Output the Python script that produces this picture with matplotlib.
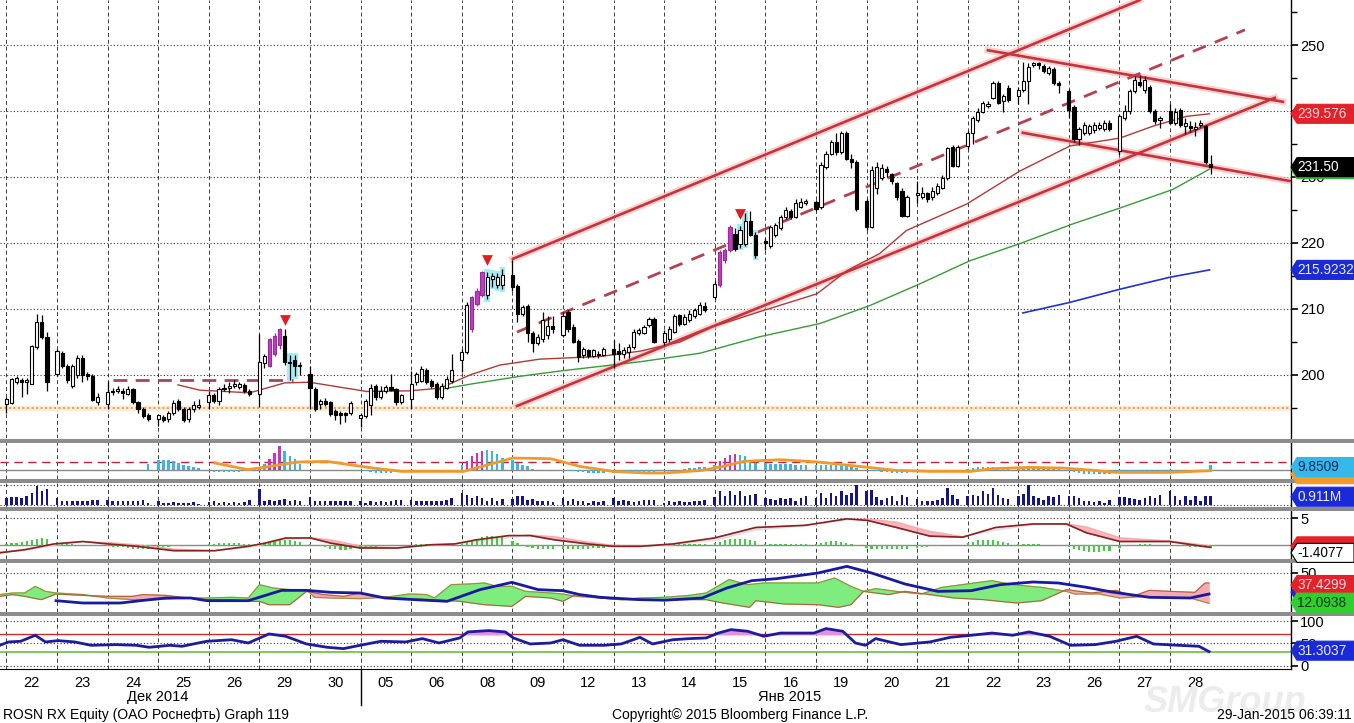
import numpy as np
import matplotlib
matplotlib.use('Agg')
import matplotlib.pyplot as plt
from matplotlib.patches import Polygon, Rectangle
from matplotlib.lines import Line2D

plt.rcParams['font.family'] = ['Liberation Sans', 'DejaVu Sans']

# ---------------------------------------------------------------- data
# trading days on the chart, 9 hourly bars each
day_labels = ['22', '23', '24', '25', '26', '29', '30', '05', '06', '08', '09', '12',
              '13', '14', '15', '16', '19', '20', '21', '22', '23', '26', '27', '28']

opens = [
    [195.6, 195.7, 199.0, 199.3, 198.9, 198.7, 204.2, 208.0, 205.7],
    [200.2, 203.4, 201.4, 198.4, 200.0, 202.5, 200.1, 199.9, 195.9],
    [195.6, 197.4, 197.5, 197.6, 197.1, 197.9, 195.9, 194.8, 194.0],
    [193.4, 193.6, 193.3, 194.3, 196.0, 194.8, 193.3, 194.8, 195.2],
    [195.9, 196.9, 196.1, 197.9, 198.0, 198.4, 198.2, 198.5, 197.6],
    [197.1, 201.8, 201.4, 203.2, 204.5, 205.9, 202.0, 202.2, 201.5],
    [200.2, 197.9, 195.6, 196.1, 195.9, 194.5, 194.3, 194.2, 194.3],
    [193.5, 193.8, 195.4, 198.4, 196.6, 197.6, 198.2, 197.8, 195.9],
    [196.4, 198.9, 199.1, 200.7, 199.1, 198.6, 196.7, 198.1, 199.1],
    [202.2, 203.5, 207.0, 210.8, 212.1, 212.1, 214.6, 213.6, 213.6],
    [215.2, 213.5, 209.3, 210.5, 206.3, 204.9, 205.4, 206.0, 207.4],
    [206.0, 209.5, 207.3, 205.2, 203.0, 203.8, 202.9, 203.2, 203.0],
    [204.0, 203.6, 203.2, 203.5, 204.2, 206.3, 206.4, 207.5, 208.5],
    [205.0, 205.5, 206.5, 209.1, 207.7, 208.3, 209.0, 209.3, 210.4],
    [211.8, 213.6, 217.4, 218.9, 221.4, 219.9, 219.9, 223.4, 221.2],
    [220.3, 219.6, 221.2, 222.2, 223.9, 224.9, 224.0, 225.5, 226.1],
    [226.2, 225.5, 231.5, 233.5, 235.3, 233.8, 236.6, 232.8, 232.3],
    [226.4, 222.4, 228.4, 229.9, 231.2, 230.4, 229.1, 227.9, 224.1],
    [227.3, 226.9, 227.6, 226.9, 227.6, 228.4, 229.9, 234.5, 231.7],
    [234.7, 236.7, 238.7, 239.9, 240.8, 242.0, 244.2, 241.5, 243.5],
    [242.2, 243.2, 244.5, 246.9, 247.2, 246.8, 245.8, 246.3, 244.3],
    [243.1, 240.6, 235.8, 236.7, 236.7, 237.1, 237.4, 237.2, 238.2],
    [234.0, 239.0, 240.0, 243.0, 244.4, 243.2, 243.7, 240.0, 238.7],
    [240.0, 238.2, 240.2, 237.8, 237.8, 237.2, 237.9, 237.7, 232.0],
]
highs = [
    [196.7, 199.5, 199.9, 199.6, 199.6, 204.5, 209.2, 209.1, 206.5],
    [204.0, 203.7, 201.6, 201.6, 203.0, 203.0, 200.4, 200.2, 197.3],
    [199.1, 198.1, 198.3, 198.0, 198.3, 198.1, 196.1, 195.2, 194.3],
    [194.0, 194.0, 194.6, 196.2, 196.4, 195.2, 195.2, 196.0, 196.4],
    [197.5, 197.2, 198.2, 198.6, 199.0, 199.2, 199.0, 198.8, 197.8],
    [206.2, 203.2, 205.6, 206.3, 207.1, 206.9, 203.0, 203.0, 202.0],
    [201.4, 198.2, 196.4, 196.5, 196.0, 194.8, 194.6, 194.4, 196.0],
    [194.3, 196.4, 198.6, 198.7, 198.3, 198.5, 200.1, 198.0, 197.1],
    [200.6, 200.5, 201.3, 201.0, 199.4, 198.9, 198.8, 199.8, 203.2],
    [204.0, 211.0, 212.0, 213.2, 215.8, 215.6, 215.5, 215.4, 216.0],
    [217.4, 213.8, 210.6, 210.8, 206.6, 206.2, 209.5, 209.0, 209.0],
    [209.5, 209.8, 207.7, 205.5, 204.2, 204.0, 204.0, 203.6, 204.2],
    [205.3, 204.9, 204.3, 204.7, 207.0, 207.1, 207.6, 208.8, 208.8],
    [206.8, 207.4, 209.3, 209.3, 209.2, 209.8, 210.2, 211.0, 211.0],
    [214.2, 219.0, 219.3, 222.7, 222.2, 222.5, 224.5, 224.8, 221.6],
    [220.8, 222.8, 223.0, 224.2, 225.5, 225.2, 226.6, 226.8, 226.6],
    [226.5, 232.2, 234.0, 235.6, 236.7, 236.9, 236.9, 233.5, 232.6],
    [226.6, 231.7, 232.2, 232.0, 231.7, 230.6, 229.3, 228.3, 227.2],
    [229.4, 228.5, 227.8, 228.5, 229.1, 230.3, 234.6, 234.9, 234.9],
    [237.0, 239.3, 240.5, 241.5, 241.5, 244.5, 244.6, 242.6, 244.0],
    [243.6, 247.5, 247.2, 247.5, 247.4, 247.1, 246.8, 246.6, 244.5],
    [243.3, 240.9, 237.6, 238.3, 238.1, 238.4, 238.4, 238.6, 238.6],
    [239.6, 240.9, 243.4, 245.3, 245.5, 245.3, 244.0, 240.3, 239.3],
    [241.0, 240.5, 240.5, 238.9, 238.5, 238.3, 238.6, 237.9, 233.4],
]
lows = [
    [194.3, 195.6, 198.6, 196.6, 197.1, 198.6, 204.0, 205.5, 197.6],
    [199.8, 201.0, 198.8, 198.0, 199.5, 199.0, 199.3, 196.0, 195.5],
    [194.8, 196.9, 197.2, 196.4, 196.9, 195.6, 194.3, 193.5, 193.0],
    [192.3, 192.9, 192.8, 194.0, 194.5, 192.9, 192.9, 194.4, 194.8],
    [194.9, 195.8, 195.5, 197.5, 197.3, 198.0, 197.8, 197.3, 196.8],
    [195.1, 201.0, 201.2, 202.8, 204.0, 201.5, 199.3, 199.8, 200.0],
    [194.9, 194.5, 194.8, 195.3, 193.8, 193.2, 192.6, 192.8, 194.0],
    [192.1, 193.5, 194.0, 196.2, 196.3, 197.3, 197.5, 195.4, 195.6],
    [194.8, 198.5, 198.9, 198.6, 198.0, 196.3, 196.4, 197.8, 198.8],
    [200.5, 203.2, 206.5, 210.5, 211.8, 211.5, 213.4, 213.2, 213.0],
    [212.8, 208.0, 209.0, 205.0, 203.5, 204.6, 205.0, 205.5, 206.4],
    [205.8, 206.5, 204.8, 202.0, 202.5, 202.5, 202.7, 202.6, 202.9],
    [201.0, 202.2, 202.5, 202.5, 204.0, 206.0, 206.2, 207.3, 204.8],
    [204.5, 205.0, 206.3, 207.4, 207.5, 208.0, 208.6, 209.1, 209.6],
    [211.5, 213.3, 217.0, 218.7, 218.8, 219.3, 219.6, 221.0, 217.8],
    [219.0, 219.3, 220.9, 222.0, 223.7, 223.6, 223.8, 225.3, 225.8],
    [224.9, 225.2, 231.2, 233.3, 233.4, 233.5, 232.5, 231.3, 224.9],
    [222.0, 222.2, 227.4, 229.6, 230.0, 228.9, 226.5, 223.9, 223.9],
    [226.1, 226.6, 226.2, 226.5, 227.3, 228.2, 229.6, 231.5, 231.5],
    [234.3, 235.0, 238.4, 239.7, 240.5, 241.8, 241.0, 239.8, 241.4],
    [241.0, 242.9, 241.0, 246.7, 246.4, 245.8, 245.5, 244.0, 242.7],
    [239.0, 235.3, 234.8, 236.4, 236.4, 236.7, 237.1, 236.9, 236.9],
    [233.4, 238.7, 239.5, 242.8, 243.7, 242.8, 239.7, 238.0, 237.4],
    [238.0, 237.9, 237.6, 236.5, 236.8, 236.2, 237.6, 232.0, 230.4],
]
closes = [
    [196.4, 199.4, 199.5, 198.9, 199.3, 204.4, 208.0, 205.7, 198.9],
    [203.7, 201.4, 199.2, 201.3, 202.5, 200.0, 199.8, 196.2, 196.7],
    [197.4, 197.6, 197.8, 197.2, 197.9, 195.9, 194.8, 193.8, 193.3],
    [193.9, 193.2, 194.3, 195.8, 194.8, 193.2, 194.8, 195.4, 195.4],
    [196.9, 196.1, 197.9, 198.1, 198.3, 198.7, 198.6, 197.6, 197.1],
    [201.9, 202.8, 205.5, 205.9, 207.0, 202.0, 201.8, 201.3, 201.3],
    [198.1, 194.9, 196.1, 195.6, 194.1, 194.0, 194.0, 194.0, 195.8],
    [194.0, 196.1, 198.1, 196.6, 197.6, 198.2, 197.7, 195.9, 196.9],
    [198.7, 200.2, 200.9, 199.0, 198.4, 196.6, 198.4, 199.4, 200.7],
    [203.5, 210.6, 211.8, 212.8, 215.6, 214.8, 215.0, 214.9, 215.1],
    [213.3, 209.3, 210.3, 206.3, 204.8, 205.8, 208.4, 207.4, 207.0],
    [209.0, 207.0, 205.0, 202.7, 204.0, 202.8, 203.8, 203.0, 204.0],
    [203.2, 203.2, 203.8, 204.2, 206.5, 206.8, 207.3, 208.5, 205.0],
    [206.3, 207.0, 209.0, 207.8, 208.8, 209.3, 209.8, 210.6, 209.8],
    [213.8, 218.6, 218.9, 222.4, 219.1, 221.9, 223.4, 221.2, 218.2],
    [220.0, 222.4, 222.7, 223.9, 225.0, 223.9, 226.0, 226.2, 226.3],
    [225.2, 231.8, 233.5, 235.3, 233.8, 236.6, 232.8, 232.3, 225.2],
    [222.4, 231.0, 231.5, 231.4, 230.7, 229.4, 226.9, 224.1, 226.9],
    [227.6, 227.6, 226.6, 227.9, 228.6, 229.9, 234.4, 231.7, 234.5],
    [236.7, 238.9, 239.9, 241.2, 241.1, 244.2, 241.2, 242.2, 241.7],
    [243.2, 244.5, 246.7, 247.2, 246.9, 246.1, 246.5, 244.3, 244.0],
    [240.1, 235.8, 237.3, 237.9, 237.7, 237.9, 237.9, 238.2, 237.2],
    [239.2, 240.0, 243.0, 244.7, 244.0, 244.7, 240.0, 238.5, 238.9],
    [238.2, 239.9, 237.9, 238.2, 237.4, 237.6, 238.2, 232.2, 231.5],
]
magenta_bars = [52, 53, 54, 92, 93, 94, 141, 142, 143]
cyan_bars = [56, 57, 95, 96, 97, 98, 145, 146, 148]
signal_bars = [55, 95, 145]
signal_prices = [208.3, 217.4, 224.4]

# moving averages / lines (trading-day position, value)
ma_red_t = [3.39, 3.82, 4.81, 5.50, 5.99, 7.12, 7.97, 8.57, 9.16, 9.75, 10.54, 11.73, 12.52, 13.31,
            13.96, 14.89, 16.02, 16.61, 17.26, 17.79, 18.98, 20.03, 21.02, 22.01, 22.66, 23.33, 23.78]
ma_red = [198.5, 197.7, 197.3, 198.8, 198.9, 197.5, 197.6, 198.0, 200.0, 201.5, 202.4, 202.8, 203.6, 205.0,
          207.3, 209.6, 212.3, 215.8, 218.4, 221.9, 225.9, 230.9, 234.7, 235.9, 237.7, 239.2, 239.576]
ma_green_t = [8.49, 9.16, 10.15, 10.94, 12.52, 13.71, 14.89, 16.08, 17.06, 18.05, 19.04, 20.03, 21.08,
              22.01, 23.05, 23.78]
ma_green = [197.7, 198.6, 199.8, 200.6, 202.0, 203.3, 205.8, 207.8, 210.5, 213.8, 217.3, 219.9, 222.9,
            225.3, 228.1, 231.2]
ma_blue_t = [20.09, 21.02, 22.01, 22.99, 23.78]
ma_blue = [209.4, 211.0, 213.0, 214.8, 215.9232]

# drawn trend lines: (day0, price0, day1, price1)
channel_lines = [(10.01, 217.6, 22.40, 256.8), (10.09, 195.3, 25.07, 242.0),
                 (19.40, 249.2, 25.23, 241.4), (20.09, 236.7, 25.36, 229.4)]
channel_mid = (10.09, 206.5, 24.48, 252.3)
resist_level = (2.10, 5.66, 199.2)
support_level = 195.0

# panel 2 oscillator histogram and its average
osc_hist = [
    [0] * 9, [0] * 9,
    [0, 0, 0, 0, 0, 0, 0, 0, 5.7],
    [10, 10, 9.3, 8.3, 6.7, 5, 3.3, 2.3, 1.7],
    [0, -2, -2.7, -2.7, -2.7, -2.7, -2.3, -1.7, -1],
    [2, 6, 11, 17, 24, 19, 14, 11, 6],
    [0, 0, 0, -0.7, -0.7, -0.7, 0, 0, 0],
    [-0.5, -1, -2, -3, -3.5, -3.5, -3, -2.5, -2],
    [-2, -2, -1.7, -1.7, -1.7, -1.7, -1.7, -1.5, -1],
    [5, 8.3, 13.3, 16.7, 19, 20, 18.3, 15.7, 11.7],
    [10, 6.7, 5, 3.3, 1, 0, 0, -0.5, -0.7],
    [-0.7, -1, -1.3, -2, -2.7, -3, -3.3, -3.3, -3],
    [-3, -3, -3, -3, -2.7, -2.7, -2.7, -2.5, -2.3],
    [-1, -0.7, 0, 0, 0.7, 1.3, 1.7, 2.3, 3],
    [4.3, 9, 11.7, 15, 15.7, 15, 13.3, 10, 6.7],
    [6.7, 6, 5.7, 5.7, 5.3, 5.3, 5, 4.7, 4.3],
    [5, 5, 4.7, 4.7, 4.3, 4, 3.3, 2.7, 1.7],
    [0, -1, -1.7, -2.3, -2.7, -3, -3, -3, -3],
    [-2.7, -2.3, -2, -2, -2, -1.7, -1.7, -1.3, -1],
    [1, 2, 2.3, 2.7, 2.7, 2.3, 2, 1.7, 1.3],
    [1.7, 1.7, 1.7, 1.7, 1.7, 1.3, 1.3, 1, 0.7],
    [-1, -2.3, -3.3, -4, -4.3, -4.7, -4.7, -4.3, -4],
    [-3.3, -3.3, -3.3, -3, -3, -3, -3, -3, -3],
    [-2.7, -2.3, -2, -2, -2, -1.7, -1.7, -1.3, 4.3],
]
osc_magenta = [52, 53, 54, 91, 92, 93, 94, 141, 142, 143, 144]
osc_avg_t = [4.12, 4.77, 5.76, 6.33, 7.24, 7.82, 8.86, 9.04, 10.01, 10.76, 11.33, 11.99, 12.64, 13.01,
             13.75, 14.16, 14.57, 15.31, 16.04, 16.85, 17.59, 18.25, 19.06, 19.48, 20.21, 20.86, 21.51,
             21.93, 22.99, 23.80]
osc_avg = [6.7, 0, 7.7, 8.3, 1.7, -1.7, -1.7, -1.7, 11.7, 11, 3.3, -1.7, -3.3, -3.3,
           -0.7, 3.3, 8.3, 10, 7.7, 3.3, -0.7, -1.7, -1.7, 1, 2.3, 1.7, -0.7,
           -2.7, -2.7, -1]

# volume, millions
volume = [
    [0.7, 0.8, 0.8, 0.7, 1.0, 1.3, 2.1, 1.5, 1.7],
    [0.7, 0.45, 0.45, 0.37, 0.45, 0.37, 0.45, 0.55, 0.55],
    [0.55, 0.37, 0.37, 0.37, 0.45, 0.37, 0.37, 0.5, 0.2],
    [0.37, 0.18, 0.15, 0.26, 0.15, 0.18, 0.15, 0.3, 0.11],
    [0.3, 0.37, 0.18, 0.3, 0.18, 0.3, 0.18, 0.3, 0.5],
    [1.75, 0.45, 0.55, 0.45, 0.55, 0.63, 0.45, 0.52, 0.37],
    [0.9, 0.45, 0.37, 0.37, 0.45, 0.37, 0.37, 0.45, 0.37],
    [0.45, 0.2, 0.37, 0.3, 0.37, 0.3, 0.37, 0.5, 0.5],
    [0.55, 0.37, 0.45, 0.37, 0.37, 0.45, 0.37, 0.5, 0.73],
    [1.3, 1.1, 0.73, 0.92, 0.73, 0.45, 0.73, 0.37, 0.63],
    [0.63, 1.0, 0.92, 0.5, 0.63, 0.45, 0.37, 0.37, 0.3],
    [0.73, 0.45, 0.66, 0.37, 0.37, 0.2, 0.37, 0.3, 0.45],
    [0.73, 0.37, 0.5, 0.37, 0.3, 0.37, 0.5, 0.5, 0.55],
    [0.18, 0.45, 0.3, 0.37, 0.3, 0.3, 0.37, 0.45, 0.55],
    [0.8, 1.47, 0.92, 1.55, 1.1, 1.55, 0.92, 1.1, 1.18],
    [0.73, 0.63, 0.55, 0.73, 0.66, 0.73, 0.45, 0.73, 0.92],
    [0.73, 1.28, 0.73, 1.28, 0.92, 1.47, 1.1, 1.28, 2.13],
    [1.47, 1.6, 0.8, 0.55, 0.73, 0.92, 0.37, 1.1, 0.8],
    [0.63, 0.45, 0.45, 0.37, 0.55, 0.73, 1.83, 1.1, 0.63],
    [1.0, 1.1, 0.92, 1.47, 1.18, 1.83, 1.1, 0.73, 0.63],
    [0.92, 1.18, 2.2, 0.92, 0.73, 0.55, 0.92, 0.8, 1.1],
    [1.0, 0.92, 0.73, 0.37, 0.45, 0.26, 0.37, 0.18, 0.5],
    [0.8, 0.8, 0.73, 0.66, 0.5, 0.73, 1.0, 0.73, 1.1],
    [1.55, 0.92, 0.5, 0.92, 0.5, 1.0, 0.45, 0.92, 0.911],
]

# MACD
macd_t = [-0.13, 0.37, 0.94, 1.51, 2.01, 2.58, 3.31, 4.12, 4.77, 5.11, 5.52, 6.01, 6.41, 6.99, 7.72,
          8.39, 8.86, 9.28, 9.93, 10.35, 10.84, 11.49, 11.99, 12.52, 13.17, 13.99, 14.81, 15.79, 16.61,
          17.02, 17.59, 18.25, 18.90, 19.55, 20.29, 20.95, 21.35, 22.01, 22.99, 23.80]
macd_line = [-1.4, -0.8, 0.25, 0.7, 0.25, -0.2, -1.0, -1.0, -0.2, 0.4, 1.35, 1.35, 0.4, -0.5, -0.5,
             0.1, 0.25, 1.0, 1.8, 1.8, 1.0, 0.25, -0.2, -0.2, 0.25, 1.35, 3.3, 3.7, 4.9,
             4.6, 3.3, 1.7, 1.5, 3.3, 3.95, 3.95, 2.3, 0.7, 0.7, -0.4]
macd_signal = [-1.2, -1.0, 0.0, 0.6, 0.5, 0.1, -0.7, -1.0, -0.4, 0.2, 1.0, 1.4, 1.0, -0.1, -0.5,
               0.0, 0.2, 0.6, 1.4, 1.9, 1.6, 0.6, 0.0, -0.2, 0.1, 0.9, 2.8, 3.6, 4.7,
               4.9, 4.3, 2.6, 1.6, 2.8, 3.8, 4.0, 3.4, 1.4, 0.8, -0.1]
macd_hist = [
    [0.2, 0.4, 0.5, 0.6, 0.8, 1.0, 1.2, 1.3, 1.2],
    [0.6, 0.5, 0.4, 0.3, 0.1, 0, -0.1, -0.2, -0.2],
    [-0.2, -0.3, -0.3, -0.4, -0.5, -0.6, -0.7, -0.7, -0.6],
    [-0.5, -0.4, -0.3, -0.2, -0.1, 0, 0, 0, 0],
    [0.2, 0.3, 0.4, 0.4, 0.4, 0.4, 0.4, 0.3, 0.3],
    [0.3, 0.4, 0.6, 0.8, 1.0, 1.0, 0.9, 0.8, 0.6],
    [0.2, 0, -0.2, -0.4, -0.6, -0.7, -0.8, -0.8, -0.7],
    [-0.6, -0.5, -0.4, -0.3, -0.2, -0.1, 0, 0, 0.1],
    [0.1, 0.2, 0.3, 0.3, 0.2, 0.1, 0.1, 0.1, 0.1],
    [0.3, 0.6, 0.9, 1.2, 1.5, 1.7, 1.7, 1.6, 1.5],
    [0.8, 0.4, 0, -0.3, -0.5, -0.6, -0.6, -0.6, -0.6],
    [-0.6, -0.6, -0.6, -0.6, -0.6, -0.6, -0.5, -0.5, -0.5],
    [-0.3, -0.2, -0.2, -0.1, -0.1, 0, 0, 0, 0],
    [0, 0.1, 0.2, 0.2, 0.2, 0.2, 0.2, 0.2, 0.2],
    [0.4, 0.7, 0.9, 1.1, 1.2, 1.2, 1.1, 1.0, 0.8],
    [0.3, 0.3, 0.2, 0.2, 0.2, 0.2, 0.2, 0.2, 0.2],
    [0.2, 0.5, 0.7, 0.8, 0.8, 0.7, 0.5, 0.2, -0.2],
    [-0.5, -0.6, -0.6, -0.6, -0.6, -0.6, -0.6, -0.6, -0.6],
    [-0.5, -0.4, -0.3, -0.2, -0.1, 0, 0, 0, 0.1],
    [0.4, 0.7, 0.9, 1.0, 1.0, 0.9, 0.8, 0.6, 0.5],
    [0.3, 0.3, 0.3, 0.2, 0.2, 0.1, 0.1, 0, 0],
    [-0.4, -0.7, -0.9, -1.1, -1.2, -1.2, -1.2, -1.1, -1.0],
    [-0.5, -0.2, 0, 0.1, 0.2, 0.2, 0.2, 0.1, 0],
    [-0.1, -0.2, -0.2, -0.2, -0.3, -0.3, -0.3, -0.4, -0.5],
]

# DMI
di_plus_t = [-0.13, 0.12, 0.36, 0.57, 0.77, 0.98, 1.51, 2.00, 2.49, 2.98, 3.47, 3.96, 4.45, 4.78, 5.00,
             5.27, 5.60, 5.93, 6.09, 6.42, 6.99, 7.48, 7.97, 8.30, 8.46, 8.79, 9.12, 9.45, 9.69, 9.99,
             10.26, 10.76, 11.00, 11.25, 11.74, 12.15, 12.52, 13.01, 13.50, 13.83, 14.28, 14.65, 14.97,
             15.55, 16.04, 16.37, 16.69, 16.94, 17.18, 17.59, 18.08, 18.49, 18.98, 19.48, 19.89, 20.46,
             20.95, 21.11, 21.60, 22.01, 22.50, 22.99, 23.40, 23.77]
di_plus = [23, 25, 25, 33.3, 27, 25, 23, 18.75, 16.7, 16.7, 18.75, 18.75, 19.6, 18.75, 35.4,
           31.25, 29.2, 29.2, 19.6, 18.75, 17.9, 19.6, 23.75, 23, 18.75, 35.4, 36.2, 37.5, 33.3, 33.3,
           27, 25, 23.75, 20.8, 18.75, 16.7, 18.75, 19.6, 22, 25, 41.7, 35.4, 37.5,
           37.5, 37.5, 43.75, 33.3, 27, 30.4, 27, 23.75, 32, 36.2, 40.4, 35.4, 32,
           27, 23.75, 23.75, 18.75, 20.8, 19.6, 18.75, 12.09]
di_minus_t = [-0.13, 0.12, 0.36, 0.69, 0.98, 1.51, 2.00, 2.49, 2.70, 3.15, 3.47, 3.96, 4.45, 4.78, 5.00,
              5.19, 5.60, 5.93, 6.26, 6.67, 6.99, 7.24, 7.97, 8.46, 8.96, 9.45, 9.99, 10.26, 10.76, 11.00,
              11.25, 11.74, 12.15, 12.52, 13.01, 13.83, 14.16, 14.69, 14.81, 15.38, 16.04, 16.45, 16.69,
              16.94, 17.43, 17.76, 18.25, 18.74, 19.31, 19.97, 20.46, 20.95, 21.44, 21.93, 22.26, 22.59,
              22.99, 23.49, 23.69, 23.77]
di_minus = [20.8, 23, 20.8, 16.7, 23.75, 22, 20.8, 20.8, 23, 22, 19.6, 16.7, 16.7, 14.6, 14.6,
            10.4, 10.4, 27, 23, 20.8, 25, 20.8, 17.9, 16.7, 14.6, 10.4, 8.3, 20.8, 18.75, 14.6,
            23, 18.75, 16.7, 16.7, 16.7, 16.7, 12.5, 7.1, 15.4, 11.25, 10.4, 7.1, 10.4,
            27, 23, 27, 23, 18.75, 16.7, 12.5, 15.4, 29.2, 25, 28.3, 20.8, 28.3,
            27, 25.8, 37.5, 37.43]
adx_t = [0.98, 1.51, 2.25, 2.65, 3.15, 3.64, 3.96, 4.78, 5.44, 5.93, 6.42, 6.99, 7.48, 8.06, 8.71, 9.36,
         9.99, 10.51, 11.00, 11.33, 11.74, 12.52, 13.01, 13.75, 14.24, 14.73, 15.22, 16.04, 16.61, 17.10,
         17.76, 18.41, 19.07, 19.64, 20.29, 20.79, 21.36, 21.85, 22.59, 23.40, 23.77]
adx = [15.4, 12.5, 12.5, 15.4, 18.75, 18.75, 15.4, 15.4, 28.3, 28.3, 25.8, 25, 18.75, 16.7, 14.6, 29.2,
       38.3, 29.2, 27.9, 23, 19.6, 16.7, 16.0, 18.75, 31.25, 40.4, 42.9, 50, 58.3, 50,
       36.25, 27, 27.9, 35.4, 38.75, 37.5, 32, 26.25, 19.6, 18.75, 23.75]

# RSI
rsi_t = [-0.13, 0.04, 0.28, 0.57, 0.77, 1.02, 1.35, 1.67, 2.16, 2.57, 2.82, 3.23, 3.47, 3.96, 4.45, 4.78,
         5.19, 5.52, 5.93, 6.34, 6.66, 6.99, 7.40, 7.89, 8.22, 8.55, 8.96, 9.12, 9.53, 9.86, 10.02, 10.35,
         10.76, 11.00, 11.33, 11.82, 12.15, 12.39, 12.52, 12.77, 13.17, 13.50, 13.83, 14.07, 14.32, 14.65,
         14.97, 15.30, 15.96, 16.20, 16.53, 16.78, 16.98, 17.18, 17.68, 18.25, 18.66, 19.07, 19.48, 19.89,
         20.21, 20.62, 21.03, 21.52, 21.93, 22.34, 22.67, 23.16, 23.57, 23.77]
rsi = [45.5, 53, 54.5, 68, 53, 56, 53, 45.5, 47, 45.5, 41, 45.5, 43.3, 54.5, 58, 50.7,
       71, 65.7, 48.5, 41, 38, 45.5, 54.5, 53, 60.5, 50.7, 62, 75.5, 78.5, 75.5, 62, 48.5,
       50.7, 58, 45.5, 45.5, 48.5, 58, 63.5, 48.5, 58, 60.5, 62, 73, 80.7, 77,
       65.7, 73, 73, 83, 77, 50.7, 45.5, 60.5, 47, 53, 63.5, 68, 73, 68,
       75.5, 65.7, 45.5, 47, 54.5, 65.7, 48.5, 45.5, 43.3, 31.3037]

# ---------------------------------------------------------------- layout
W, H = 1354, 723
AX_R = 1290.5
XLIM = (-1.28, 253.8)

fig = plt.figure(figsize=(W / 100, H / 100), dpi=100)
fig.patch.set_facecolor('white')


def panel(top, bottom, ylim):
    a = fig.add_axes([0, 1 - bottom / H, AX_R / W, (bottom - top) / H])
    a.set_xlim(*XLIM)
    a.set_ylim(*ylim)
    for s in ['left', 'top', 'bottom']:
        a.spines[s].set_visible(False)
    a.spines['right'].set_color('black')
    a.spines['right'].set_linewidth(1.0)
    a.yaxis.tick_right()
    a.tick_params(axis='y', direction='out', length=5, width=1.2, labelsize=10.5, pad=2)
    a.set_xticks([])
    a.set_yticks([])
    for d in range(24):
        a.axvline(10 * d, color='#3a3a3a', lw=0.7, ls=(0, (4, 3)), zorder=0)
    return a


def dotted(a, y):
    a.axhline(y, color='#333333', lw=0.8, ls=(0, (1, 2)), zorder=0.5)


def tag(a, y, text, bg, fg, edge=None, h=19):
    yd = a.transData.transform((0, y))[1]
    pts = [(1291, yd), (1297, yd + h / 2), (W, yd + h / 2), (W, yd - h / 2), (1297, yd - h / 2)]
    pts = [(px / W, py / H) for px, py in pts]
    fig.add_artist(Polygon(pts, closed=True, transform=fig.transFigure, facecolor=bg,
                           edgecolor=edge if edge else bg, lw=0.8, zorder=5))
    if text:
        fig.text(1297 / W, yd / H, text, color=fg, fontsize=9.8, va='center', ha='left', zorder=6)


slots = np.array([10 * d + k for d in range(24) for k in range(9)], dtype=float)
o = np.array(opens).ravel()
hi = np.array(highs).ravel()
lo = np.array(lows).ravel()
c = np.array(closes).ravel()

# ---------------------------------------------------------------- main price panel
ax = panel(0, 438, (190.45, 256.82))
for lvl in range(200, 251, 10):
    dotted(ax, lvl)
ax.set_yticks(range(200, 251, 10))
ax.set_yticks(range(195, 256, 5), minor=True)
ax.tick_params(axis='y', which='minor', direction='out', length=4, width=1)

ax.axhspan(support_level - 0.35, support_level + 0.35, color='#fdebd5', zorder=0.6)
ax.axhline(support_level, color='#e8943a', lw=1.3, ls=(0, (1, 1.5)), zorder=0.7)
ax.plot([resist_level[0] * 10, resist_level[1] * 10], [resist_level[2]] * 2,
        color='#a84458', lw=2, ls=(0, (5, 3)), zorder=2)

ax.plot(np.array(ma_red_t) * 10, ma_red, color='#b03a3a', lw=1.0, zorder=2)
ax.plot(np.array(ma_green_t) * 10, ma_green, color='#3a9a3a', lw=1.0, zorder=2)
ax.plot(np.array(ma_blue_t) * 10, ma_blue, color='#2233cc', lw=1.2, zorder=2)

for t0, p0, t1, p1 in channel_lines:
    ax.plot([t0 * 10, t1 * 10], [p0, p1], color='#f5c2c2', lw=5, alpha=0.7, zorder=1.5)
    ax.plot([t0 * 10, t1 * 10], [p0, p1], color='#c8323a', lw=1.9, zorder=2.5)
t0, p0, t1, p1 = channel_mid
ax.plot([t0 * 10, t1 * 10], [p0, p1], color='#b54050', lw=2, ls=(0, (5, 3.5)), zorder=2.5)

cy = np.isin(slots, cyan_bars)
ax.bar(slots[cy], hi[cy] - lo[cy] + 0.8, bottom=lo[cy] - 0.4, width=1.05, color='#a6ecf5', zorder=2.6)

mg = np.isin(slots, magenta_bars)
up = c >= o
face = np.where(mg, '#c23cc2', np.where(up, 'white', 'black'))
edge = np.where(mg, '#9a2a9a', 'black')
wick = np.where(mg, '#9a2a9a', 'black')
ax.vlines(slots, lo, hi, colors=wick, lw=0.9, zorder=3)
ax.bar(slots, np.maximum(np.abs(c - o), 0.15), bottom=np.minimum(o, c), width=0.62,
       color=face, edgecolor=edge, lw=0.8, zorder=4)
ax.scatter(np.array(signal_bars, dtype=float), signal_prices, marker='v', s=60,
           color='#e01b24', zorder=6, linewidths=0)

# ---------------------------------------------------------------- oscillator panel
ax2 = panel(442, 479, (-9.3, 27.7))
ax2.axhline(7.4, color='#c02434', lw=1.0, ls=(0, (6, 4)), zorder=0.8)
ax2.axhline(0, color='#8a8a8a', lw=1.0, zorder=0.8)
oh = np.array(osc_hist).ravel()
ocol = np.where(np.isin(slots, osc_magenta), '#d030c0', '#3ab6e2')
ax2.bar(slots, oh, width=0.5, color=ocol, zorder=2)
ax2.plot(np.array(osc_avg_t) * 10, osc_avg, color='#ee9a2e', lw=2.0, zorder=3)

# ---------------------------------------------------------------- volume panel
ax3 = panel(483, 507, (-0.25, 2.39))
dotted(ax3, 0)
dotted(ax3, 2.2)
ax3.bar(slots, np.array(volume).ravel(), width=0.5, color='#14148c', zorder=2)

# ---------------------------------------------------------------- MACD panel
ax4 = panel(511, 559, (-2.54, 6.35))
dotted(ax4, 5)
ax4.axhline(0, color='#8a8a8a', lw=1.0, zorder=0.8)
ax4.set_yticks([5])
mt = np.array(macd_t) * 10
ml = np.array(macd_line)
ms = np.array(macd_signal)
ax4.fill_between(mt, ml, ms, where=ms >= ml, color='#f4a4ac', alpha=0.8, interpolate=True, zorder=1)
ax4.fill_between(mt, ml, ms, where=ms < ml, color='#dcdcdc', alpha=0.8, interpolate=True, zorder=1)
ax4.bar(slots, np.array(macd_hist).ravel(), width=0.45, color='#44cc44', zorder=2)
ax4.plot(mt, ml, color='#8b1f1f', lw=1.2, zorder=3)

# ---------------------------------------------------------------- DMI panel
ax5 = panel(563, 612, (1.25, 62.5))
dotted(ax5, 50)
ax5.set_yticks([50])
grid = np.linspace(-0.13, 23.77, 800)
dp = np.interp(grid, di_plus_t, di_plus)
dm = np.interp(grid, di_minus_t, di_minus)
ax5.fill_between(grid * 10, dp, dm, where=dp >= dm, color='#7eec7e', interpolate=True, zorder=1)
ax5.fill_between(grid * 10, dp, dm, where=dp < dm, color='#f4aab2', interpolate=True, zorder=1)
ax5.plot(np.array(di_plus_t) * 10, di_plus, color='#a08a3a', lw=0.8, zorder=2)
ax5.plot(np.array(di_minus_t) * 10, di_minus, color='#b0603a', lw=0.8, zorder=2)
ax5.plot(np.array(adx_t) * 10, adx, color='#1a1aa0', lw=2.0, zorder=3)

# ---------------------------------------------------------------- RSI panel
ax6 = panel(616, 669, (-7.75, 111.3))
for lvl in (0, 50, 100):
    dotted(ax6, lvl)
ax6.axhline(70, color='#c03030', lw=1.0, zorder=0.8)
ax6.axhline(30, color='#6cbf3c', lw=1.2, zorder=0.8)
ax6.set_yticks([0, 50, 100])
rt = np.array(rsi_t) * 10
rv = np.array(rsi)
ax6.fill_between(rt, rv, 70, where=rv > 70, color='#e890d8', interpolate=True, zorder=1)
ax6.plot(rt, rv, color='#1c1c9c', lw=2.0, zorder=3)
ax6.spines['bottom'].set_visible(True)
ax6.spines['bottom'].set_color('black')
ax6.set_xticks(np.arange(24) * 10 + 5)
ax6.set_xticklabels(day_labels)
ax6.tick_params(axis='x', length=0, labelsize=10.5, pad=5)

# ---------------------------------------------------------------- separators, tags, texts
for top in (438.5, 479, 507, 559, 612):
    fig.add_artist(Rectangle((0, 1 - (top + 4) / H), 1, 4 / H, transform=fig.transFigure,
                             facecolor='#8c8c8c', edgecolor='none', zorder=2))
fig.add_artist(Line2D([360.7 / W] * 2, [1 - 670 / H, 1 - 705 / H], transform=fig.transFigure,
                      color='black', lw=1))

tag(ax, 239.576, '239.576', '#e4202a', '#ffd9d9')
tag(ax, ma_green[-1], '', '#2eb82e', 'black')
tag(ax, 231.5, '231.50', 'black', 'white')
tag(ax, 215.9232, '215.9232', '#1a2ad8', '#e6ecff')
tag(ax2, -4.5, '', '#ee9a2e', 'black')
tag(ax2, 2.7, '9.8509', '#36b8e6', '#0a2a66')
tag(ax3, 0.88, '0.911M', '#1a2ad8', '#e6ecff')
tag(ax4, -0.2, '', '#e4202a', 'white')
tag(ax4, -1.4077, '-1.4077', 'white', 'black', edge='black')
tag(ax5, 26, '', '#1a2ad8', 'white')
tag(ax5, 35.0, '37.4299', '#e4202a', '#ffd9d9')
tag(ax5, 12.9, '12.0938', '#2ed02e', '#0a3a0a')
tag(ax6, 33.4, '31.3037', '#1a2ad8', '#e6ecff')

fig.text(158 / W, 1 - 697 / H, 'Дек 2014', fontsize=10.5, ha='center', va='center')
fig.text(790 / W, 1 - 697 / H, 'Янв 2015', fontsize=10.5, ha='center', va='center')
fig.text(1225 / W, 1 - 702 / H, 'SMGroup', fontsize=26, ha='center', va='center',
         color='#ececec', fontweight='bold', style='italic', zorder=0)
fig.text(3 / W, 1 - 715 / H, 'ROSN RX Equity (OAO Роснефть) Graph 119', fontsize=10, va='center')
fig.text(740 / W, 1 - 715 / H, 'Copyright© 2015 Bloomberg Finance L.P.', fontsize=10,
         ha='center', va='center')
fig.text(1352 / W, 1 - 715 / H, '29-Jan-2015 06:39:11', fontsize=10, ha='right', va='center')

fig.savefig('out.png', dpi=100)
